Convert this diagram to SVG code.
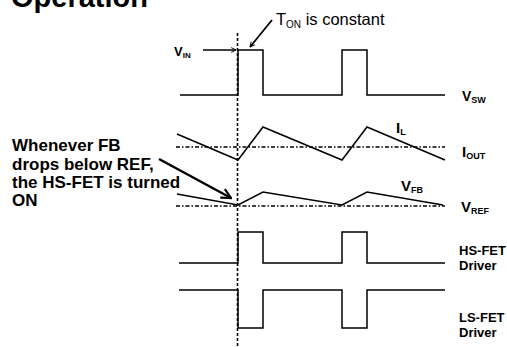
<svg xmlns="http://www.w3.org/2000/svg" width="507" height="347" viewBox="0 0 507 347">
<defs>
<marker id="chev" viewBox="0 0 10 10" refX="9" refY="5" markerWidth="6" markerHeight="6" orient="auto" markerUnits="userSpaceOnUse">
<path d="M1,1 L9,5 L1,9" fill="none" stroke="#000" stroke-width="1.6"/>
</marker>
<marker id="chevB" viewBox="0 0 10 10" refX="9" refY="5" markerWidth="12" markerHeight="12" orient="auto" markerUnits="userSpaceOnUse">
<path d="M1,1 L9,5 L1,9" fill="none" stroke="#000" stroke-width="1.8"/>
</marker>
<style>
.w{fill:none;stroke:#000;stroke-width:1.5;stroke-linejoin:miter}
.dd{fill:none;stroke:#000;stroke-width:1.5;stroke-dasharray:4 2 1.5 2}
.vd{fill:none;stroke:#000;stroke-width:1.6;stroke-dasharray:3 2}
.t{font-family:"Liberation Sans",Arial,sans-serif;fill:#000}
.b{font-weight:bold}
</style>
</defs>
<rect width="507" height="347" fill="#fff"/>
<text class="t b" x="11" y="7" font-size="29">Operation</text>
<g id="connectors">
<line class="vd" x1="237.5" y1="33" x2="237.5" y2="347"/>
<line x1="203" y1="50" x2="236" y2="50" stroke="#000" stroke-width="1.5" marker-end="url(#chev)"/>
<line x1="272" y1="20" x2="250" y2="47" stroke="#000" stroke-width="1.8" marker-end="url(#chev)"/>
<line x1="159" y1="159" x2="231" y2="198" stroke="#000" stroke-width="2.5" marker-end="url(#chevB)"/>
</g>
<g id="vsw">
<polyline class="w" points="180,95 238,95 238,50 263,50 263,95 342,95 342,50 367,50 367,95 445,95"/>
<text class="t b" x="462" y="101" font-size="14">V<tspan font-size="9" dy="2">SW</tspan></text>
</g>
<g id="il">
<line class="dd" x1="176" y1="147" x2="445" y2="147"/>
<polyline class="w" points="177,134 238,160 263,127 342,160 367,127 445,160"/>
<text class="t b" x="396" y="133" font-size="15">I<tspan font-size="9" dy="2">L</tspan></text>
<text class="t b" x="462" y="157" font-size="15">I<tspan font-size="9" dy="2">OUT</tspan></text>
</g>
<g id="vfb">
<line class="dd" x1="176" y1="206" x2="445" y2="206"/>
<polyline class="w" points="177,194 238,205 263,192 342,205 367,192 443,205"/>
<text class="t b" x="401" y="191" font-size="15">V<tspan font-size="9" dy="2">FB</tspan></text>
<text class="t b" x="461" y="212" font-size="15">V<tspan font-size="9" dy="2">REF</tspan></text>
</g>
<g id="hs">
<polyline class="w" points="179,263 238,263 238,232 263,232 263,263 342,263 342,232 367,232 367,263 445,263"/>
<text class="t b" x="459" y="255" font-size="13">HS-FET</text>
<text class="t b" x="459" y="270" font-size="13">Driver</text>
</g>
<g id="ls">
<polyline class="w" points="179,290 238,290 238,328 263,328 263,290 342,290 342,328 367,328 367,290 445,290"/>
<text class="t b" x="459" y="322" font-size="13">LS-FET</text>
<text class="t b" x="459" y="337" font-size="13">Driver</text>
</g>
<g id="labels">
<text class="t b" x="174" y="56" font-size="13">V<tspan font-size="8" dy="2">IN</tspan></text>
<text class="t" x="276" y="25" font-size="16.5">T<tspan font-size="10" dy="3">ON</tspan><tspan dy="-3"> is constant</tspan></text>
<text class="t b" font-size="17">
<tspan x="12" y="151">Whenever FB</tspan>
<tspan x="12" y="169.5">drops below REF,</tspan>
<tspan x="12" y="188">the HS-FET is turned</tspan>
<tspan x="12" y="206">ON</tspan>
</text>
</g>
</svg>
